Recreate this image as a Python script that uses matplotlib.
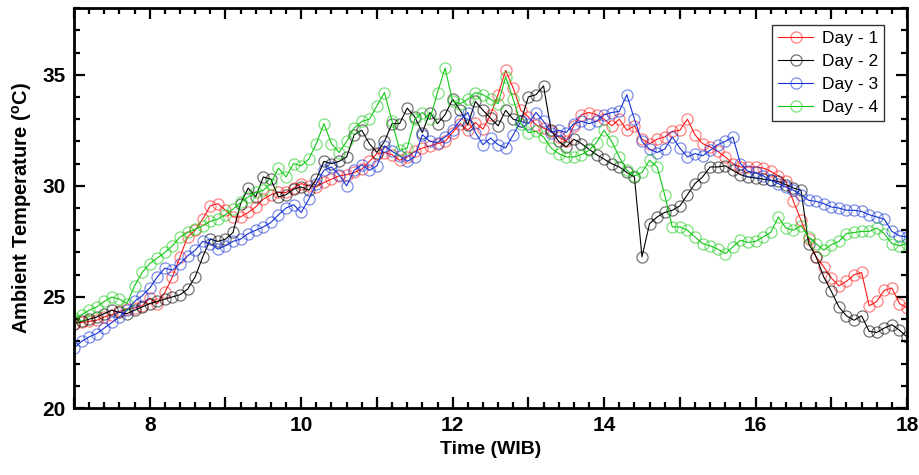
import numpy as np
import matplotlib
matplotlib.use("Agg")
import matplotlib.pyplot as plt
from matplotlib.ticker import MultipleLocator, FuncFormatter
from matplotlib.colors import to_rgba

# === DATA (0.1 h steps from 7:00 to 18:00) ===
time_h = np.round(np.arange(7.0, 18.0001, 0.1), 1)

day1 = [23.8, 23.85, 23.9, 23.95, 24.1, 24.2, 24.35, 24.45, 24.5, 24.6,
        24.95, 24.7, 25.2, 25.9, 26.8, 27.7, 28.0, 28.5, 29.1, 29.2,
        28.9, 28.6, 28.6, 28.8, 29.05, 29.4, 29.6, 29.7, 29.7, 29.9,
        30.1, 30.0, 29.95, 30.15, 30.3, 30.45, 30.5, 30.6, 30.75, 31.1,
        31.45, 31.5, 31.4, 31.15, 31.3, 31.55, 31.7, 31.8, 31.9, 32.0,
        32.4, 32.8, 32.5, 32.85, 32.55, 33.2, 34.1, 35.2, 34.4, 33.4,
        33.1, 32.75, 32.6, 32.45, 32.2, 32.0, 32.7, 33.2, 33.3, 33.2,
        33.0, 32.7, 33.0, 32.5, 32.7, 32.1, 31.9, 32.1, 32.2, 32.45,
        32.5, 33.0, 32.3, 31.9, 31.75, 31.55, 31.3, 31.0, 30.85, 30.85,
        30.85, 30.8, 30.65, 30.45, 30.2, 29.3, 28.45, 27.6, 26.8, 26.35,
        25.85, 25.5, 25.7, 26.0, 26.1, 24.6, 24.8, 25.3, 25.4, 24.7,
        24.5]

day2 = [23.8, 23.9, 24.0, 24.1, 24.25, 24.4, 24.3, 24.25, 24.4, 24.55,
        24.7, 24.8, 24.9, 25.0, 25.1, 25.35, 25.9, 26.8, 27.6, 27.5,
        27.6, 27.9, 29.2, 29.9, 29.5, 30.4, 30.3, 29.5, 29.6, 29.85,
        29.95, 29.8, 30.3, 31.1, 31.0, 31.1, 31.3, 32.3, 32.5, 31.9,
        31.5, 32.0, 32.8, 32.8, 33.5, 33.1, 32.4, 33.3, 32.8, 33.2,
        33.9, 33.4, 32.75, 33.8, 33.4, 33.05, 32.7, 33.4, 33.0, 32.9,
        34.0, 34.1, 34.5, 32.5, 32.0, 31.75, 32.1, 31.9, 31.65, 31.4,
        31.2, 31.0, 30.85, 30.6, 30.4, 26.8, 28.3, 28.6, 28.8, 28.9,
        29.1, 29.6, 30.1, 30.4, 30.85, 30.85, 30.9, 30.7, 30.5, 30.4,
        30.35, 30.3, 30.25, 30.2, 30.05, 29.9, 29.8, 27.4, 26.8, 25.9,
        25.25, 24.55, 24.15, 23.95, 24.15, 23.45, 23.4, 23.6, 23.75, 23.5,
        23.2]

day3 = [22.7, 23.0, 23.2, 23.35, 23.6, 23.85, 24.1, 24.4, 24.8, 25.05,
        25.4, 25.9, 26.3, 26.2, 26.5, 26.85, 27.1, 27.5, 27.4, 27.15,
        27.3, 27.5, 27.6, 27.85, 28.0, 28.15, 28.35, 28.7, 29.0, 29.15,
        28.8, 29.4, 30.1, 30.7, 30.85, 30.5, 30.0, 30.7, 30.95, 30.7,
        30.9, 31.8, 31.55, 31.35, 31.1, 31.3, 32.3, 32.0, 31.95, 32.2,
        32.5, 32.95, 33.3, 32.4, 31.85, 32.15, 31.85, 31.7, 32.3, 32.9,
        32.8, 33.3, 32.9, 32.4, 32.5, 32.4, 32.8, 32.9, 32.8, 32.9,
        33.2, 33.3, 33.35, 34.1, 33.0, 32.0, 31.65, 31.5, 31.65, 32.2,
        31.7, 31.3, 31.45, 31.35, 31.6, 31.85, 32.0, 32.2, 31.0, 30.65,
        30.6, 30.45, 30.25, 30.1, 29.95, 29.8, 29.6, 29.35, 29.3, 29.2,
        29.05, 29.0, 28.9, 28.9, 28.85, 28.7, 28.6, 28.5, 27.95, 27.75,
        27.7]

day4 = [24.05, 24.2, 24.4, 24.55, 24.8, 25.0, 24.9, 24.7, 25.5, 26.1,
        26.5, 26.75, 27.0, 27.3, 27.7, 27.9, 28.05, 28.2, 28.4, 28.5,
        28.7, 28.95, 29.25, 29.5, 29.7, 29.8, 30.1, 30.8, 30.4, 31.0,
        30.9, 31.2, 31.9, 32.8, 31.9, 31.5, 32.0, 32.6, 32.9, 33.0,
        33.6, 34.2, 32.9, 31.6, 31.7, 33.0, 33.3, 33.0, 34.2, 35.3,
        33.8, 33.7, 33.9, 34.2, 34.1, 33.9, 33.7, 34.9, 33.9, 32.8,
        32.4, 32.45, 32.2, 31.7, 31.45, 31.3, 31.3, 31.4, 31.6, 31.95,
        32.5, 32.0, 31.3, 30.7, 30.45, 30.6, 31.15, 30.85, 29.6, 28.15,
        28.15, 28.0, 27.7, 27.4, 27.3, 27.15, 26.95, 27.25, 27.55, 27.45,
        27.5, 27.7, 27.9, 28.6, 28.1, 28.0, 28.2, 27.7, 27.4, 27.1,
        27.35, 27.5, 27.85, 27.9, 27.95, 27.95, 28.1, 27.85, 27.4, 27.3,
        27.4]

series = [("Day - 1", day1, "#ff1a1a"),
          ("Day - 2", day2, "#000000"),
          ("Day - 3", day3, "#1433d6"),
          ("Day - 4", day4, "#14c814")]

# === STYLE ===
plt.rcParams["font.family"] = ["Liberation Sans", "DejaVu Sans"]
plt.rcParams["mathtext.fontset"] = "custom"
plt.rcParams["mathtext.rm"] = "Liberation Sans:bold"

# === PLOT ===
fig = plt.figure(figsize=(9.19, 4.75), dpi=100)
ax = fig.add_axes([0.0805, 0.141, 0.9065, 0.842])

for name, vals, col in series:
    ax.plot(time_h, vals, "-", color=col, lw=0.8, marker="o", ms=8,
            mfc="none", mec=to_rgba(col, 0.55), mew=0.9, label=name)

ax.set_xlim(7, 18)
ax.set_ylim(20, 38)
ax.xaxis.set_major_locator(MultipleLocator(1))
ax.xaxis.set_minor_locator(MultipleLocator(0.2))
ax.xaxis.set_major_formatter(FuncFormatter(lambda v, p: f"{int(round(v))}" if round(v) % 2 == 0 else ""))
ax.yaxis.set_major_locator(MultipleLocator(5))
ax.yaxis.set_minor_locator(MultipleLocator(1))

ax.tick_params(which="both", direction="in", top=True, right=True, width=1.6)
ax.tick_params(which="major", length=8, labelsize=15, pad=6)
ax.tick_params(which="minor", length=4.5)
for lab in ax.get_xticklabels() + ax.get_yticklabels():
    lab.set_fontweight("bold")
for sp in ax.spines.values():
    sp.set_linewidth(2)

ax.set_xlabel("Time (WIB)", fontsize=14, fontweight="bold", labelpad=4)
ax.set_ylabel(r"Ambient Temperature ($^{\mathrm{o}}$C)", fontsize=14.5,
              fontweight="bold", labelpad=6)

leg = ax.legend(loc="upper right", bbox_to_anchor=(0.983, 0.98), fontsize=12.5,
                frameon=True, fancybox=False, shadow=False, handlelength=2.0,
                borderpad=0.35, labelspacing=0.45, handletextpad=0.5)
leg.get_frame().set_edgecolor("black")
leg.get_frame().set_linewidth(1.0)

fig.savefig("out.png", dpi=100)
